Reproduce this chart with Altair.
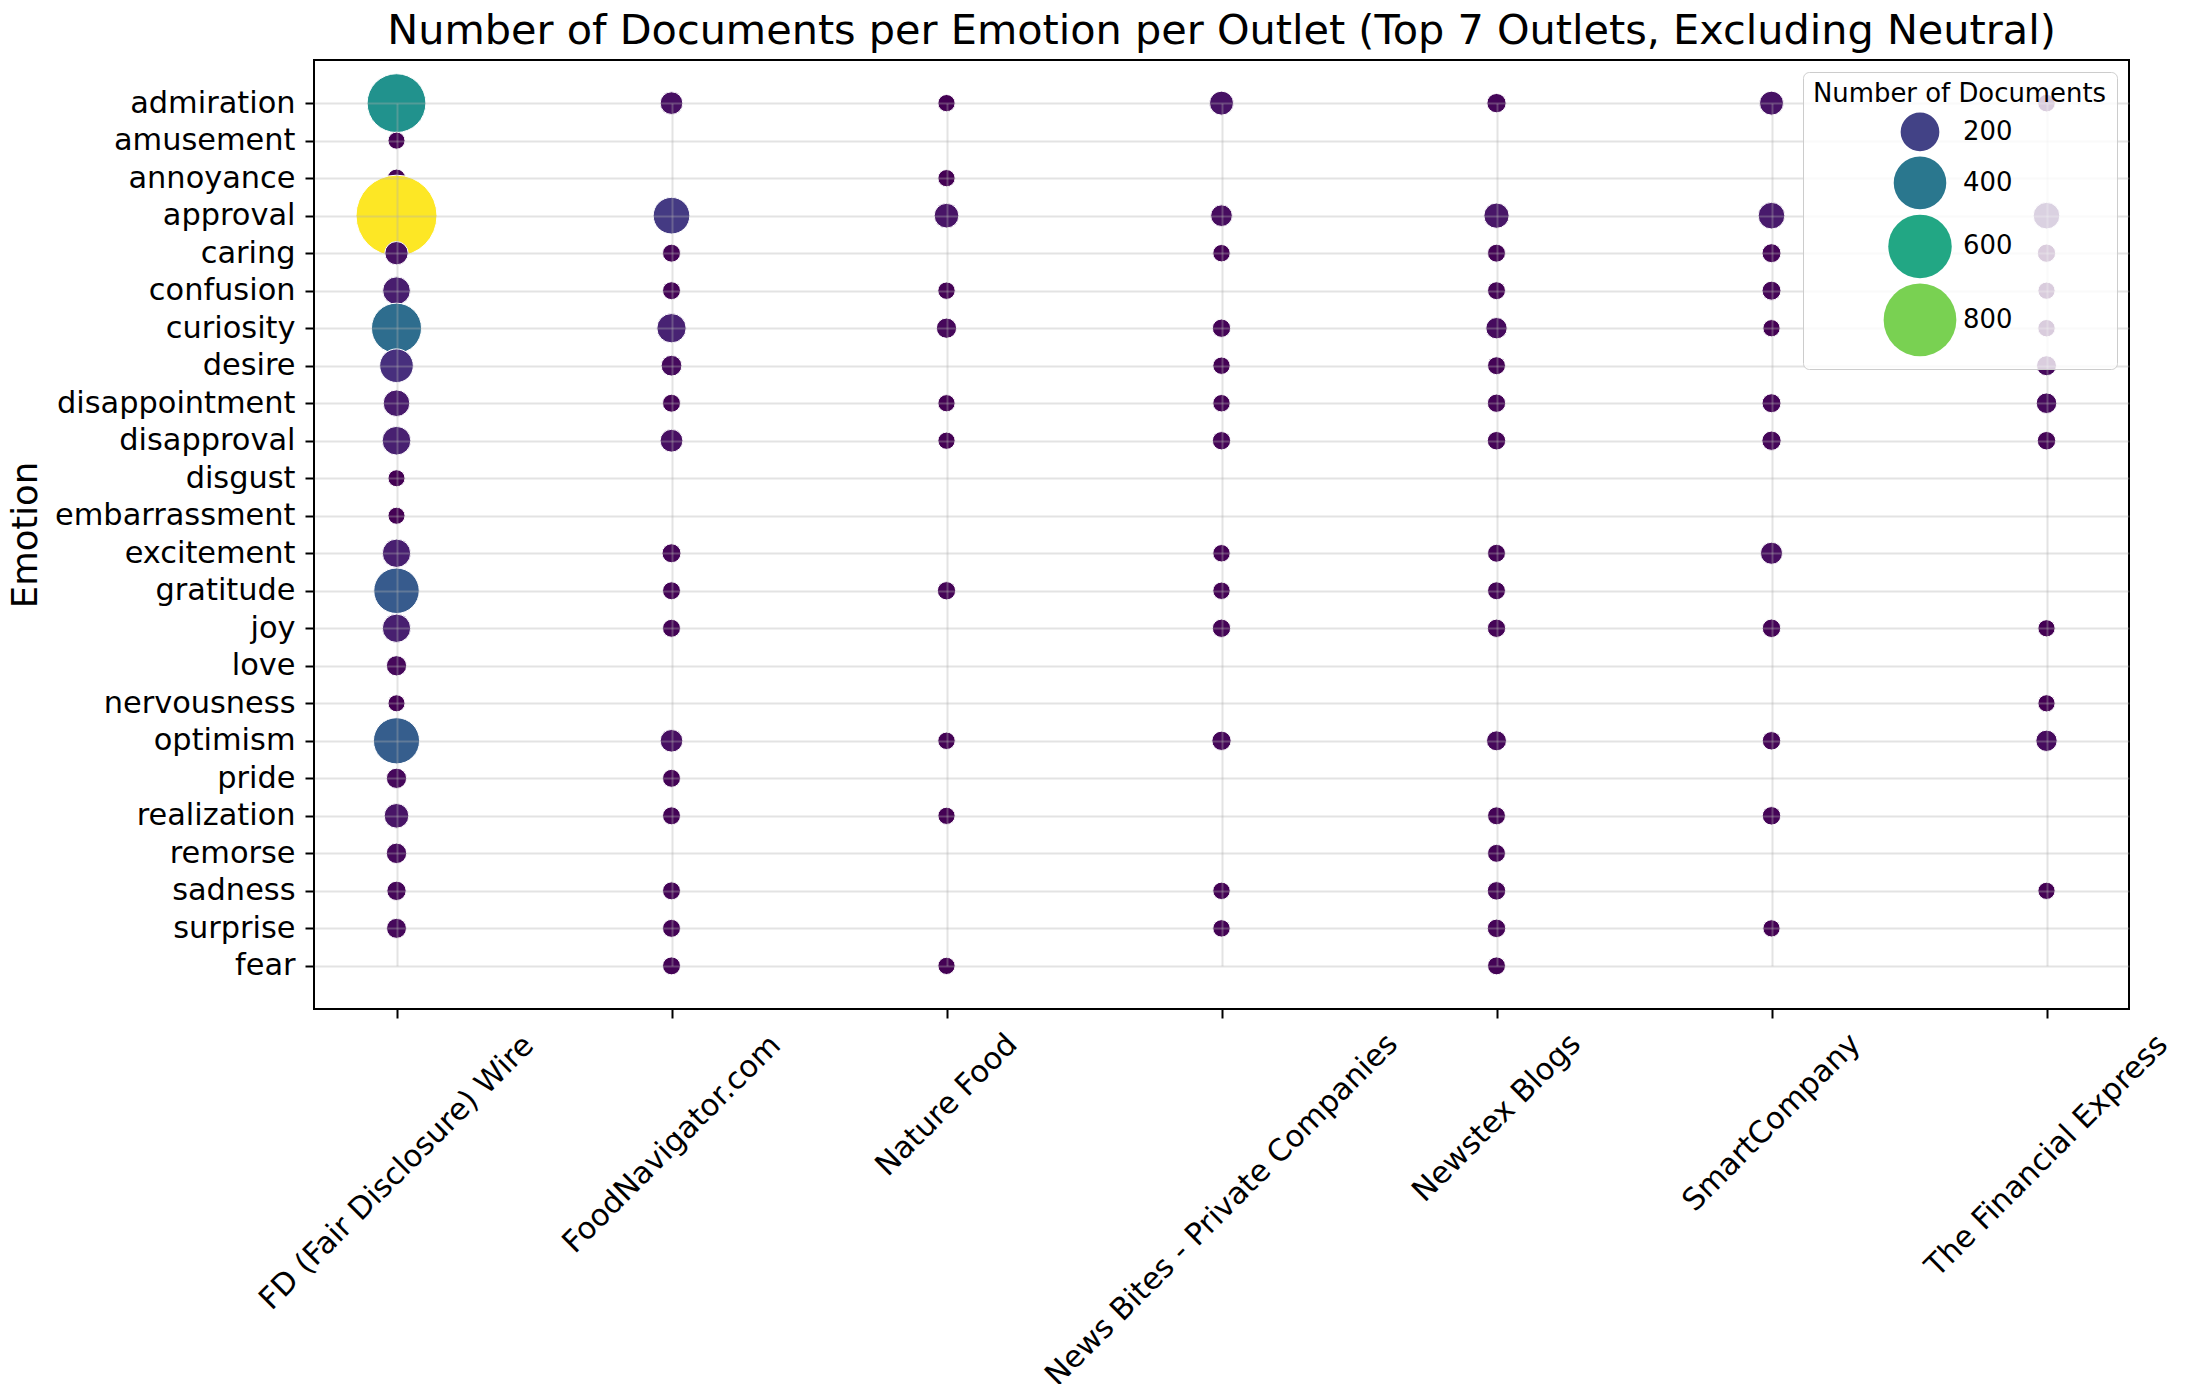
import math
import altair as alt
import pandas as pd

# ---------------- data ----------------
outlets = [
    "FD (Fair Disclosure) Wire",
    "FoodNavigator.com",
    "Nature Food",
    "News Bites - Private Companies",
    "Newstex Blogs",
    "SmartCompany",
    "The Financial Express",
]

emotions = [
    "admiration", "amusement", "annoyance", "approval", "caring", "confusion",
    "curiosity", "desire", "disappointment", "disapproval", "disgust",
    "embarrassment", "excitement", "gratitude", "joy", "love", "nervousness",
    "optimism", "pride", "realization", "remorse", "sadness", "surprise", "fear",
]

N = None
# counts per emotion, in the order of `emotions`
fd_wire = [510, 9, 15, 1000, 49, 84, 360, 142, 75, 93, 9, 9, 90, 290, 90, 28, 9, 300, 28, 59, 29, 22, 26, N]
food_navigator = [44, N, N, 175, 14, 14, 99, 31, 14, 45, N, N, 20, 14, 14, N, N, 44, 14, 14, N, 14, 14, 14]
nature_food = [10, N, 10, 59, N, 11, 28, N, 10, 10, N, N, N, 16, N, N, N, 11, N, 10, N, N, N, 10]
news_bites = [54, N, N, 37, 11, N, 16, 11, 11, 16, N, N, 11, 11, 16, N, N, 22, N, N, N, 11, 11, N]
newstex = [22, N, N, 64, 14, 14, 35, 14, 16, 17, N, N, 14, 14, 16, N, N, 26, N, 14, 14, 17, 17, 14]
smart_company = [54, N, N, 75, 20, 20, 10, N, 20, 22, N, N, 40, N, 17, N, N, 17, N, 17, N, N, 10, N]
financial_express = [12, N, N, 75, 16, 10, 11, 26, 30, 17, N, N, N, N, 10, N, 10, 35, N, N, N, 10, N, N]

counts_by_outlet = [fd_wire, food_navigator, nature_food, news_bites,
                    newstex, smart_company, financial_express]

legend_values = [200, 400, 600, 800]

rows = []
for outlet, counts in zip(outlets, counts_by_outlet):
    for emo, c in zip(emotions, counts):
        if c is not None:
            rows.append({"outlet": outlet, "emotion": emo, "documents": c})
df = pd.DataFrame(rows)

vmin = int(df["documents"].min())
vmax = int(df["documents"].max())

FONT = "DejaVu Sans"
W, H = 1815, 949

# matplotlib-style categorical margins (5% of the data span on each side)
n_y = len(emotions)
y_margin = 0.05 * (n_y - 1)
y_step = H / ((n_y - 1) + 2 * y_margin)
y_range = [y_margin * y_step, H - y_margin * y_step]

# ---------- x tick label placement (centered, rotated 45 deg) ----------
# approximate DejaVu Sans advance widths (em) to centre rotated labels on ticks
adv = {
    "A": .684, "B": .686, "C": .698, "D": .770, "E": .632, "F": .575, "N": .748,
    "P": .603, "S": .635, "T": .611, "W": .989,
    "a": .613, "b": .635, "c": .550, "d": .635, "e": .615, "f": .352, "g": .635,
    "h": .634, "i": .278, "l": .278, "m": .974, "n": .634, "o": .612, "p": .635,
    "r": .411, "s": .521, "t": .392, "u": .634, "v": .592, "w": .818, "x": .592,
    "y": .592, " ": .318, "(": .390, ")": .390, "-": .361, ".": .318,
}
tick_fs = 30.4
expr = "150"
for name in reversed(outlets):
    w = sum(adv.get(ch, 0.6) for ch in name) * tick_fs
    pad = 9 + (w + 33) / (2 * math.sqrt(2))
    expr = f"datum.label == '{name}' ? {pad:.1f} : ({expr})"

x_axis = alt.Axis(
    title=None,
    domain=False,
    labelAngle=-45,
    labelAlign="center",
    labelBaseline="middle",
    labelPadding=alt.ExprRef(expr=expr),
    labelFont=FONT, labelFontSize=tick_fs, labelColor="black", labelLimit=1000,
    tickSize=9, tickWidth=2, tickColor="black",
    grid=True, gridColor="#b0b0b0", gridOpacity=0.35, gridWidth=2,
    zindex=1,
)

y_axis = alt.Axis(
    title="Emotion",
    domain=False,
    titleFont=FONT, titleFontSize=35.4, titleFontWeight="normal", titleColor="black",
    titleAngle=270, titleAlign="center", titleBaseline="middle",
    titleX=-289, titleY=H / 2,
    labelFont=FONT, labelFontSize=tick_fs, labelColor="black", labelLimit=1000,
    labelPadding=10,
    tickSize=9, tickWidth=2, tickColor="black",
    grid=True, gridColor="#b0b0b0", gridOpacity=0.35, gridWidth=2,
    zindex=1,
)

LEG_FS = 25.9
legend_common = dict(
    title="Number of Documents",
    values=legend_values,
    orient="top-right",
    offset=12,
    fillColor="rgba(255,255,255,0.8)",
    strokeColor="#cccccc",
    cornerRadius=6,
    padding=10,
    titleFont=FONT, titleFontSize=LEG_FS, titleFontWeight="normal", titleColor="black",
    titleLimit=600, titlePadding=4,
    labelFont=FONT, labelFontSize=LEG_FS, labelColor="black", labelLimit=200,
    symbolType="circle", symbolStrokeColor="white", symbolStrokeWidth=1,
    symbolOpacity=1,
    symbolOffset=70, labelOffset=6,
    rowPadding=0,
    zindex=2,
)

chart = (
    alt.Chart(df)
    .mark_circle(opacity=1, stroke="white", strokeWidth=1)
    .encode(
        x=alt.X("outlet:N", sort=outlets,
                scale=alt.Scale(type="point", padding=0.3), axis=x_axis),
        y=alt.Y("emotion:N", sort=emotions,
                scale=alt.Scale(type="point", range=y_range, padding=0), axis=y_axis),
        size=alt.Size("documents:Q",
                      scale=alt.Scale(domain=[vmin, vmax], range=[291, 6554]),
                      legend=alt.Legend(**legend_common)),
        color=alt.Color("documents:Q",
                        scale=alt.Scale(scheme="viridis", domain=[vmin, vmax]),
                        legend=alt.Legend(type="symbol", **legend_common)),
    )
    .properties(
        width=W,
        height=H,
        background="white",
        title=alt.TitleParams(
            text="Number of Documents per Emotion per Outlet (Top 7 Outlets, Excluding Neutral)",
            font=FONT, fontSize=41.4, fontWeight="normal", color="black",
            anchor="middle", offset=8,
        ),
        autosize=alt.AutoSizeParams(type="none"),
        padding={"left": 306, "top": 52, "right": 46, "bottom": 375},
    )
    .configure_view(stroke="black", strokeWidth=2, strokeOpacity=1)
    .configure_legend(labelFontSize=LEG_FS, titleFontSize=LEG_FS, labelFont=FONT, titleFont=FONT)
)

chart.save("out.html", embed_options={"renderer": "svg", "actions": False})
